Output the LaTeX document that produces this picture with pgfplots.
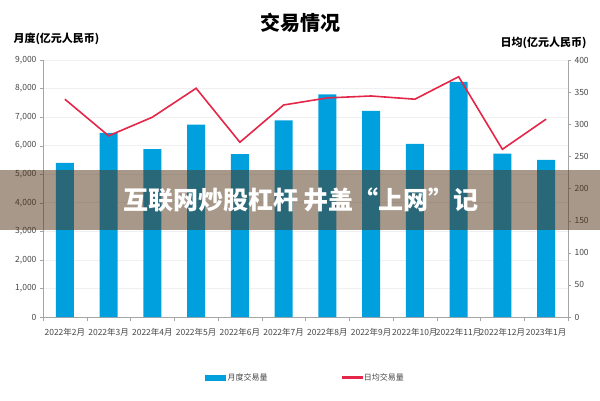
\documentclass[border=0pt]{standalone}
\usepackage{fontspec}
\setmainfont{Noto Sans CJK SC}
\usepackage{pgfplots}
\pgfplotsset{compat=1.18}
\definecolor{barblue}{RGB}{0,160,222}
\definecolor{linered}{RGB}{228,38,72}
\definecolor{axgray}{RGB}{165,165,165}
\definecolor{txtgray}{RGB}{70,70,70}
\definecolor{bandc}{RGB}{80,50,20}
\begin{document}
\begin{tikzpicture}[x=1pt,y=1pt]
\useasboundingbox (0,0) rectangle (600,400);
\begin{axis}[
 at={(43pt,83pt)}, anchor=south west, scale only axis, width=525pt, height=257pt,
 xmin=-0.5, xmax=11.5, ymin=0, ymax=9000,
 axis x line*=bottom, axis y line*=left,
 axis line style={axgray, line width=0.8pt},
 xtick={0,...,11},
 xticklabels={2022年2月,2022年3月,2022年4月,2022年5月,2022年6月,2022年7月,2022年8月,2022年9月,2022年10月,2022年11月,2022年12月,2023年1月},
 xticklabel style={yshift=-5pt},
 major x tick style={draw=none},
 minor xtick={-0.5,0.5,...,11.5},
 minor x tick style={axgray},
 minor tick length=4pt,
 ytick={0,1000,...,9000},
 ymajorgrids, grid style={gray!12, line width=0.6pt},
 tick align=outside, major tick length=3pt,
 y tick style={axgray},
 tick label style={font=\fontsize{8.5}{10}\selectfont, text=txtgray},
 /pgf/number format/assume math mode=true,
 /pgf/number format/1000 sep={,},
 scaled y ticks=false,
]
\addplot[ybar, bar width=18pt, fill=barblue, draw=none]
  coordinates {(0,5400) (1,6450) (2,5880) (3,6740) (4,5700) (5,6890) (6,7800) (7,7220) (8,6060) (9,8230) (10,5720) (11,5500)};
\end{axis}
\begin{axis}[
 at={(43pt,83pt)}, anchor=south west, scale only axis, width=525pt, height=257pt,
 xmin=-0.5, xmax=11.5, ymin=0, ymax=400,
 axis y line*=right, hide x axis,
 axis line style={axgray, line width=0.8pt},
 ytick={0,50,...,400},
 tick align=outside, major tick length=3pt,
 y tick style={axgray},
 tick label style={font=\fontsize{8.5}{10}\selectfont, text=txtgray},
 /pgf/number format/assume math mode=true,
 legend style={at={(0.5,-0.235)}, anchor=center, draw=none, legend columns=2,
   font=\fontsize{8}{10}\selectfont,
   /tikz/every even column/.append style={column sep=72pt}},
]
\addlegendimage{legend image code/.code={\fill[barblue] (0pt,-2.5pt) rectangle (20pt,2.5pt);}}
\addlegendentry{\textcolor{txtgray}{月度交易量}}
\addlegendimage{legend image code/.code={\fill[linered] (0pt,-0.9pt) rectangle (20pt,0.9pt);}}
\addlegendentry{\textcolor{txtgray}{日均交易量}}
\addplot[linered, line width=1.6pt, mark=none, forget plot]
  coordinates {(0,339) (1,282) (2,311) (3,356) (4,272) (5,330) (6,341) (7,344) (8,339) (9,374) (10,261) (11,308)};
\end{axis}
\node[font=\fontsize{20}{24}\selectfont\bfseries] at (300,377) {交易情况};
\node[anchor=west, font=\fontsize{11}{13}\selectfont\bfseries] at (10,361) {月度(亿元人民币)};
\node[anchor=east, font=\fontsize{11}{13}\selectfont\bfseries] at (590,357) {日均(亿元人民币)};
\fill[bandc, opacity=0.5] (0,170) rectangle (600,230);
\node[text=white, font=\fontsize{25}{29}\selectfont\bfseries] at (301,200) {互联网炒股杠杆 井盖“上网”记};
\end{tikzpicture}
\end{document}
